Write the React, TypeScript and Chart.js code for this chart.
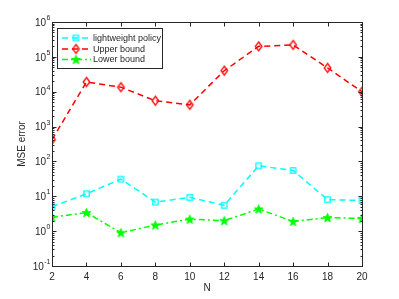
import React, { useEffect, useRef } from "react";
import { Chart, registerables } from "chart.js";
Chart.register(...registerables);

const N = [2, 4, 6, 8, 10, 12, 14, 16, 18, 20];
const lightweight = [5, 11.8, 31, 6.8, 9.3, 5.5, 75, 55, 8, 7.6];
const upper = [420, 19000, 13500, 5500, 4200, 40000, 200000, 220000, 48000, 10000];
const lower = [2.5, 3.4, 0.9, 1.5, 2.2, 2.0, 4.3, 1.9, 2.45, 2.3];
const seriesNames = ["lightweight policy", "Upper bound", "Lower bound"];
const yExponents = [-1, 0, 1, 2, 3, 4, 5, 6];
const xTicks = [2, 4, 6, 8, 10, 12, 14, 16, 18, 20];
const xTitle = "N";
const yTitle = "MSE error";

const AX = "#262626";
const FONT = "'Liberation Sans', Arial, sans-serif";

function makeMarker(kind: string, color: string): HTMLCanvasElement {
  const c = document.createElement("canvas");
  const s = 13;
  c.width = s;
  c.height = s;
  const ctx = c.getContext("2d")!;
  ctx.strokeStyle = color;
  ctx.fillStyle = color;
  ctx.lineWidth = 1.3;
  const m = s / 2;
  if (kind === "square") {
    ctx.strokeRect(m - 2.7, m - 2.7, 5.4, 5.4);
  } else if (kind === "diamond") {
    ctx.beginPath();
    ctx.moveTo(m, m - 4.5);
    ctx.lineTo(m + 3.3, m);
    ctx.lineTo(m, m + 4.5);
    ctx.lineTo(m - 3.3, m);
    ctx.closePath();
    ctx.stroke();
  } else {
    ctx.lineWidth = 1;
    ctx.beginPath();
    const R = 4.7, r = 1.9;
    for (let i = 0; i < 10; i++) {
      const a = -Math.PI / 2 + (i * Math.PI) / 5;
      const rr = i % 2 === 0 ? R : r;
      const x = m + rr * Math.cos(a);
      const y = m + 0.4 + rr * Math.sin(a);
      if (i === 0) ctx.moveTo(x, y);
      else ctx.lineTo(x, y);
    }
    ctx.closePath();
    ctx.fill();
    ctx.stroke();
  }
  return c;
}

export default function App() {
  const ref = useRef<HTMLCanvasElement>(null);
  useEffect(() => {
    document.body.style.margin = "0";
    const markers = [
      makeMarker("square", "#00FFFF"),
      makeMarker("diamond", "#FF0000"),
      makeMarker("star", "#00FF00"),
    ];
    const colors = ["#00FFFF", "#FF0000", "#00FF00"];
    const dashes = [[6, 4], [6, 4], [6, 3, 2, 3]];
    const values = [lightweight, upper, lower];

    const axesPlugin = {
      id: "matlabAxes",
      afterDatasetsDraw(chart: any) {
        const ctx = chart.ctx;
        const { left, right, top, bottom } = chart.chartArea;
        const xs = chart.scales.x;
        const ys = chart.scales.y;
        ctx.save();
        ctx.strokeStyle = AX;
        ctx.lineWidth = 1;
        ctx.setLineDash([]);
        const L = Math.round(left) + 0.5, R = Math.round(right) + 0.5;
        const T = Math.round(top) + 0.5, B = Math.round(bottom) + 0.5;
        ctx.strokeRect(L, T, R - L, B - T);
        ctx.beginPath();
        for (const v of xTicks) {
          const px = Math.round(xs.getPixelForValue(v)) + 0.5;
          ctx.moveTo(px, B); ctx.lineTo(px, B - 4);
          ctx.moveTo(px, T); ctx.lineTo(px, T + 4);
        }
        for (const e of yExponents) {
          const py = Math.round(ys.getPixelForValue(Math.pow(10, e))) + 0.5;
          ctx.moveTo(L, py); ctx.lineTo(L + 4, py);
          ctx.moveTo(R, py); ctx.lineTo(R - 4, py);
          if (e < 6) {
            for (let k = 2; k <= 9; k++) {
              const my = Math.round(ys.getPixelForValue(k * Math.pow(10, e))) + 0.5;
              ctx.moveTo(L, my); ctx.lineTo(L + 2, my);
              ctx.moveTo(R, my); ctx.lineTo(R - 2, my);
            }
          }
        }
        ctx.stroke();

        ctx.fillStyle = AX;
        ctx.textBaseline = "middle";
        ctx.textAlign = "left";
        for (const e of yExponents) {
          const py = ys.getPixelForValue(Math.pow(10, e));
          ctx.font = `10px ${FONT}`;
          const w10 = ctx.measureText("10").width;
          ctx.font = `7px ${FONT}`;
          const es = e < 0 ? "-" + Math.abs(e) : String(e);
          const we = ctx.measureText(es).width;
          const x0 = left - 2 - we - w10;
          ctx.font = `10px ${FONT}`;
          ctx.fillText("10", x0, py + 1);
          ctx.font = `7px ${FONT}`;
          ctx.fillText(es, x0 + w10 + 0.5, py - 4);
        }

        ctx.font = `10px ${FONT}`;
        ctx.textAlign = "center";
        ctx.fillText(xTitle, (left + right) / 2, 288);
        ctx.save();
        ctx.translate(22, (top + bottom) / 2);
        ctx.rotate(-Math.PI / 2);
        ctx.fillText(yTitle, 0, 0);
        ctx.restore();

        const bx = 57.5, by = 28.5, bw = 105, bh = 40;
        ctx.fillStyle = "#FFFFFF";
        ctx.fillRect(bx, by, bw, bh);
        ctx.strokeStyle = AX;
        ctx.lineWidth = 1;
        ctx.strokeRect(bx, by, bw, bh);
        const rowsY = [38, 49, 59.5];
        for (let i = 0; i < 3; i++) {
          const y = rowsY[i];
          ctx.strokeStyle = colors[i];
          ctx.lineWidth = 1.5;
          ctx.setLineDash(dashes[i]);
          ctx.beginPath();
          ctx.moveTo(62, y);
          ctx.lineTo(91, y);
          ctx.stroke();
          ctx.setLineDash([]);
          const mk = markers[i];
          ctx.drawImage(mk, 76 - mk.width / 2, y - mk.height / 2);
          ctx.fillStyle = AX;
          ctx.font = `9px ${FONT}`;
          ctx.textAlign = "left";
          ctx.textBaseline = "middle";
          ctx.fillText(seriesNames[i], 93, y + 0.5);
        }
        ctx.restore();
      },
    };

    const chart = new Chart(ref.current!, {
      type: "line",
      data: {
        datasets: values.map((vals, i) => ({
          label: seriesNames[i],
          data: N.map((n, j) => ({ x: n, y: vals[j] })),
          borderColor: colors[i],
          backgroundColor: colors[i],
          borderWidth: 1.5,
          borderDash: dashes[i],
          pointStyle: markers[i] as any,
          pointRadius: 5,
          tension: 0,
          fill: false,
        })),
      },
      options: {
        responsive: false,
        animation: false,
        layout: { padding: { left: 0, top: 22, right: 37, bottom: 0 } },
        plugins: { legend: { display: false }, tooltip: { enabled: false } },
        scales: {
          x: {
            type: "linear",
            min: 2,
            max: 20,
            grid: { display: false, drawTicks: false },
            border: { display: false },
            ticks: {
              stepSize: 2,
              autoSkip: false,
              maxRotation: 0,
              padding: 5,
              color: AX,
              font: { family: FONT, size: 10 },
            },
            afterFit: (s: any) => { s.height = 33; },
          },
          y: {
            type: "logarithmic",
            min: 0.1,
            max: 1e6,
            grid: { display: false },
            border: { display: false },
            ticks: { display: false },
            afterFit: (s: any) => { s.width = 52; },
          },
        },
      },
      plugins: [axesPlugin],
    } as any);
    return () => chart.destroy();
  }, []);
  return (
    <div style={{ position: "absolute", left: 0, top: 0, width: 399, height: 299, background: "#fff" }}>
      <canvas ref={ref} width={399} height={299} style={{ width: 399, height: 299 }} />
    </div>
  );
}
